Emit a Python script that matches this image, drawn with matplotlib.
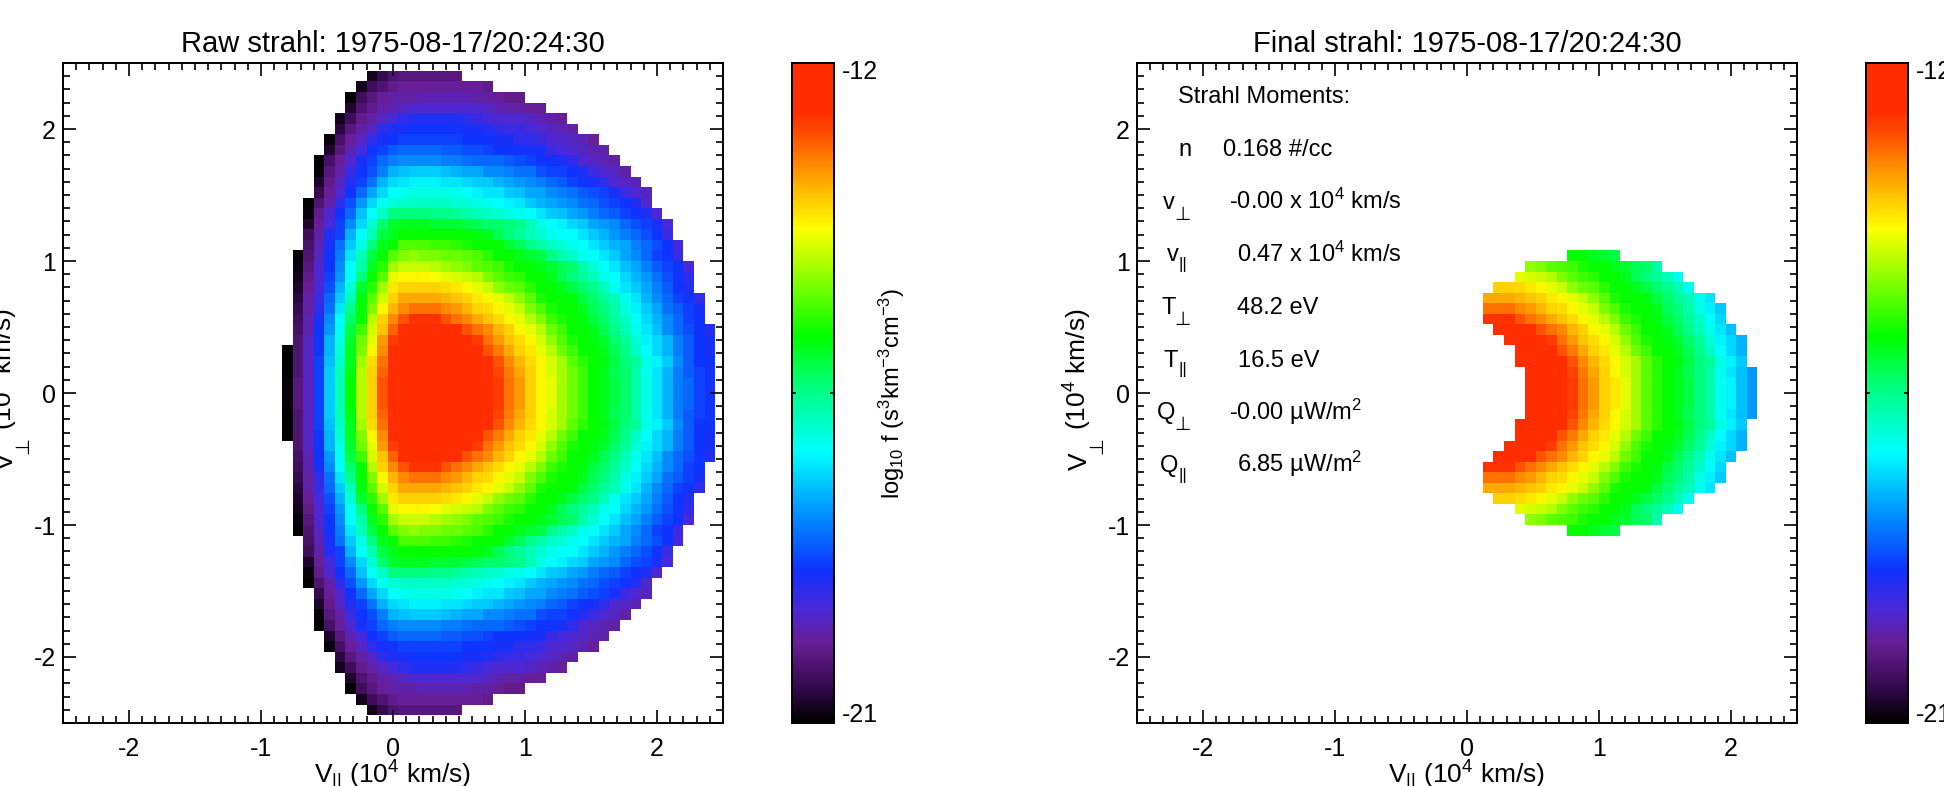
import numpy as np
import matplotlib
matplotlib.use("Agg")
import matplotlib.pyplot as plt
from matplotlib.colors import LinearSegmentedColormap
from matplotlib.ticker import MultipleLocator
from matplotlib.transforms import Affine2D

plt.rcParams["font.family"] = ["Liberation Sans", "DejaVu Sans"]
plt.rcParams["mathtext.fontset"] = "custom"
plt.rcParams["mathtext.rm"] = "Liberation Sans"
plt.rcParams["mathtext.default"] = "regular"
plt.rcParams["axes.unicode_minus"] = False

TITLE_TIME = "1975-08-17/20:24:30"
GRID_STEP = 0.08  # 10^4 km/s per cell

# Cell values are tenths of a decade above log10 f = -21.
# Rows run from v_perp = 0 upward, the lower half of the picture is the mirror.
raw_first_col = [-10, -10, -10, -10, -10, -9, -9, -9, -9, -9, -9, -9, -9, -9, -8, -8,
                 -8, -8, -8, -7, -7, -7, -7, -6, -6, -5, -5, -4, -4, -3, -2]
raw_rows = [
    [1, 9, 14, 22, 33, 42, 53, 63, 71, 80, 85, 85, 85, 85, 85, 85, 85, 85, 85, 85, 82, 78, 75, 71, 68, 66, 62, 59, 56, 53, 51, 49, 47, 43, 39, 35, 31, 27, 25, 22, 21],
    [1, 9, 14, 22, 33, 42, 53, 63, 71, 80, 85, 85, 85, 85, 85, 85, 85, 85, 85, 85, 82, 78, 75, 71, 68, 66, 62, 59, 56, 53, 51, 49, 47, 43, 39, 35, 31, 27, 25, 22, 21],
    [0, 8, 14, 22, 33, 42, 52, 63, 71, 79, 85, 85, 85, 85, 85, 85, 85, 85, 85, 84, 81, 77, 74, 71, 68, 65, 62, 59, 56, 53, 51, 48, 47, 43, 38, 35, 31, 27, 24, 22, 21],
    [0, 8, 14, 22, 32, 41, 51, 62, 70, 78, 85, 85, 85, 85, 85, 85, 85, 85, 85, 84, 80, 76, 73, 70, 68, 65, 62, 58, 55, 53, 52, 49, 46, 44, 39, 36, 33, 28, 24, 21, 21],
    [0, 8, 14, 21, 31, 40, 51, 60, 68, 76, 84, 85, 85, 85, 85, 85, 85, 85, 84, 80, 77, 74, 71, 69, 66, 63, 59, 56, 53, 53, 51, 48, 45, 41, 37, 34, 31, 27, 24, 21, 20],
    [8, 14, 21, 31, 39, 50, 59, 66, 75, 82, 85, 85, 85, 85, 85, 85, 85, 82, 78, 75, 72, 70, 68, 65, 61, 57, 54, 53, 52, 50, 47, 44, 40, 36, 34, 31, 27, 24, 21, 20],
    [7, 13, 21, 29, 38, 49, 56, 65, 72, 79, 84, 84, 84, 84, 84, 84, 80, 78, 76, 73, 71, 68, 66, 63, 59, 56, 53, 53, 51, 48, 45, 42, 38, 35, 32, 28, 25, 23, 21, 19],
    [6, 13, 20, 28, 37, 47, 53, 63, 71, 76, 80, 83, 83, 83, 80, 78, 76, 74, 72, 70, 68, 66, 63, 60, 56, 54, 53, 52, 49, 47, 44, 41, 37, 34, 31, 28, 25, 22, 21],
    [5, 12, 18, 26, 35, 45, 53, 60, 68, 73, 76, 78, 78, 78, 76, 75, 73, 71, 70, 68, 66, 64, 60, 57, 54, 53, 53, 51, 48, 46, 43, 39, 36, 33, 30, 26, 24, 22, 20],
    [4, 12, 17, 25, 33, 42, 52, 58, 65, 71, 74, 74, 74, 74, 73, 72, 71, 69, 68, 66, 64, 61, 58, 54, 53, 53, 52, 49, 47, 44, 42, 38, 35, 31, 28, 25, 22, 21, 18],
    [3, 11, 16, 23, 31, 40, 50, 55, 62, 69, 71, 71, 71, 71, 70, 69, 68, 66, 64, 61, 59, 58, 55, 53, 53, 51, 49, 47, 45, 42, 38, 35, 33, 30, 27, 24, 21, 19],
    [2, 10, 15, 22, 29, 37, 46, 53, 58, 66, 68, 68, 68, 67, 66, 65, 64, 63, 60, 58, 56, 55, 53, 53, 51, 48, 46, 44, 42, 38, 37, 34, 31, 29, 26, 23, 21, 18],
    [1, 9, 15, 21, 28, 37, 43, 51, 55, 62, 64, 64, 64, 63, 62, 61, 60, 58, 57, 56, 54, 53, 53, 51, 50, 48, 47, 43, 40, 37, 35, 32, 30, 27, 24, 22, 21, 16],
    [0, 8, 14, 21, 27, 35, 42, 49, 53, 58, 60, 61, 60, 60, 59, 59, 58, 57, 55, 53, 53, 51, 50, 49, 45, 43, 41, 38, 37, 35, 33, 30, 28, 25, 22, 21, 17],
    [7, 13, 20, 26, 33, 39, 46, 51, 53, 57, 57, 57, 56, 56, 55, 54, 53, 53, 53, 50, 48, 45, 43, 41, 40, 38, 37, 35, 33, 31, 30, 27, 25, 23, 21, 16],
    [6, 12, 19, 22, 31, 37, 42, 49, 51, 53, 53, 53, 53, 53, 53, 53, 52, 51, 48, 46, 44, 42, 40, 38, 37, 37, 35, 33, 31, 29, 27, 25, 23, 21, 17],
    [3, 11, 16, 22, 28, 34, 40, 47, 50, 51, 51, 51, 50, 50, 50, 49, 48, 47, 47, 46, 45, 42, 39, 37, 36, 34, 33, 30, 29, 28, 25, 23, 22, 20, 16],
    [1, 10, 15, 21, 25, 32, 37, 41, 46, 46, 46, 46, 45, 45, 44, 43, 42, 41, 40, 39, 38, 37, 35, 33, 32, 30, 29, 27, 25, 24, 22, 21, 19, 15],
    [0, 8, 12, 18, 23, 29, 34, 38, 40, 41, 41, 41, 41, 41, 40, 40, 39, 38, 37, 36, 35, 33, 31, 30, 29, 28, 26, 25, 23, 22, 21, 19, 15],
    [5, 11, 15, 21, 25, 30, 34, 37, 38, 39, 39, 39, 39, 38, 37, 36, 35, 35, 33, 32, 30, 30, 28, 27, 26, 24, 23, 22, 20, 17, 15, 14],
    [3, 10, 14, 19, 22, 26, 31, 34, 35, 36, 36, 36, 35, 35, 34, 33, 33, 31, 30, 29, 28, 27, 25, 24, 22, 21, 20, 18, 15, 14, 13],
    [1, 9, 12, 17, 21, 23, 27, 31, 32, 33, 33, 33, 32, 31, 30, 30, 28, 28, 27, 26, 26, 23, 22, 22, 21, 19, 17, 15, 14, 12],
    [0, 7, 11, 15, 20, 22, 25, 27, 28, 28, 28, 28, 27, 27, 26, 25, 25, 25, 24, 23, 22, 21, 21, 20, 18, 15, 14, 13, 12],
    [3, 9, 13, 16, 21, 22, 24, 25, 25, 25, 25, 24, 24, 23, 23, 22, 21, 21, 21, 20, 20, 17, 16, 15, 14, 13, 12],
    [1, 7, 11, 14, 18, 20, 21, 22, 22, 22, 22, 22, 22, 21, 21, 21, 20, 20, 18, 18, 17, 15, 15, 14, 13, 11],
    [4, 9, 12, 14, 18, 19, 20, 21, 21, 21, 21, 21, 20, 20, 19, 18, 17, 17, 16, 15, 14, 13, 12],
    [2, 6, 10, 12, 14, 16, 18, 19, 19, 19, 19, 19, 18, 17, 16, 15, 15, 15, 14, 13, 12, 11],
    [3, 8, 10, 12, 13, 14, 15, 15, 15, 15, 15, 15, 15, 14, 13, 12, 12, 11, 11],
    [0, 6, 9, 11, 12, 12, 12, 13, 13, 13, 13, 13, 12, 12, 11, 10, 10],
    [2, 6, 8, 10, 11, 11, 11, 11, 11, 11, 11, 11, 10],
    [2, 5, 8, 9, 9, 9, 9, 9, 9],
]

final_first_col = [6, 6, 6, 5, 5, 4, 3, 2, 2, 2, 3, 5, 6, 10]
final_rows = [
    [85, 85, 85, 85, 82, 78, 75, 71, 69, 66, 62, 58, 55, 53, 51, 49, 46, 43, 38, 36, 32, 29],
    [85, 85, 85, 85, 82, 78, 75, 71, 69, 66, 62, 58, 55, 53, 51, 49, 46, 43, 38, 36, 32, 29],
    [85, 85, 85, 85, 81, 77, 74, 71, 68, 65, 62, 58, 55, 53, 51, 48, 46, 43, 38, 35, 32, 29],
    [85, 85, 85, 85, 84, 80, 76, 73, 70, 68, 65, 62, 58, 55, 53, 52, 49, 46, 44, 39, 36, 33],
    [85, 85, 85, 84, 80, 77, 74, 71, 69, 66, 63, 59, 56, 53, 53, 51, 48, 45, 41, 37, 34, 31],
    [85, 85, 85, 85, 82, 78, 75, 72, 70, 68, 65, 61, 57, 54, 53, 52, 50, 47, 44, 40, 36, 34, 31],
    [84, 84, 84, 84, 80, 78, 76, 73, 71, 68, 66, 63, 59, 56, 53, 53, 51, 48, 45, 42, 38, 35, 32],
    [83, 83, 83, 80, 78, 76, 74, 72, 70, 68, 66, 63, 60, 56, 54, 53, 52, 49, 47, 44, 41, 37, 34],
    [78, 78, 78, 76, 75, 73, 71, 70, 68, 66, 64, 60, 57, 54, 53, 53, 51, 48, 46, 43, 39, 36, 33],
    [74, 74, 74, 73, 72, 71, 69, 68, 66, 64, 61, 58, 54, 53, 53, 52, 49, 47, 44, 42, 38, 35],
    [71, 71, 70, 69, 68, 66, 64, 61, 59, 58, 55, 53, 53, 51, 49, 47, 45, 42, 38],
    [66, 65, 64, 63, 60, 58, 56, 55, 53, 53, 51, 48, 46, 44, 42, 38],
    [61, 60, 58, 57, 56, 54, 53, 53, 51, 50, 48, 47, 43],
    [53, 53, 51, 50, 49],
]

moment_names = ["n", "v", "v", "T", "T", "Q", "Q"]
moment_subs = ["", "perp", "par", "perp", "par", "perp", "par"]
moment_values = [
    "0.168 #/cc",
    r"-0.00 x 10$^4$ km/s",
    r"0.47 x 10$^4$ km/s",
    "48.2 eV",
    "16.5 eV",
    "-0.00 µW/m$^2$",
    "6.85 µW/m$^2$",
]
# left edge of each text, in pixels of the panel
name_left_px = [41, 26, 30, 24, 27, 20, 23]
value_left_px = [86, 92, 100, 100, 101, 92, 100]

cmap = LinearSegmentedColormap.from_list("strahl", [
    (0.00, "#000000"), (0.05, "#32084a"), (0.12, "#691e96"), (0.17, "#4b28d7"),
    (0.23, "#0f32ff"), (0.32, "#0096ff"), (0.41, "#00ffff"), (0.50, "#00ff8c"),
    (0.585, "#00ff00"), (0.75, "#ffff00"), (0.83, "#ffa000"), (0.90, "#ff4600"),
    (0.93, "#ff2d00"), (1.00, "#ff2d00"),
])

FIG_W, FIG_H = 1944, 786
AX_TOP, AX_SIZE = 63, 660
PANEL_LEFT = [63, 1137]
CBAR_LEFT = [792, 1866]
CBAR_W = 42

fig = plt.figure(figsize=(FIG_W / 100, FIG_H / 100), dpi=100, facecolor="white")
# pixel coordinates with the origin at the top left
fig_px = Affine2D().scale(1, -1).translate(0, FIG_H)


def px_axes(left, top, w, h):
    return fig.add_axes([left / FIG_W, 1 - (top + h) / FIG_H, w / FIG_W, h / FIG_H])


def px_text(x, y, s, size, **kw):
    kw.setdefault("va", "baseline")
    return fig.text(x, y, s, transform=fig_px, fontsize=size, **kw)


def build_grid(first_col, rows):
    # NaN outside the measured region
    grid = np.full((61, 61), np.nan)
    for k, (start, row) in enumerate(zip(first_col, rows)):
        for n, level in enumerate(row):
            val = -21 + level / 10
            grid[30 + k, 30 + start + n] = val
            grid[30 - k, 30 + start + n] = val
    return grid


def draw_panel(left, title, grid):
    ax = px_axes(left, AX_TOP, AX_SIZE, AX_SIZE)
    edges = (np.arange(62) - 30.5) * GRID_STEP
    ax.pcolormesh(edges, edges, np.ma.masked_invalid(grid), cmap=cmap, vmin=-21, vmax=-12,
                  linewidth=0, antialiased=False)
    ax.set_xlim(-2.5, 2.5)
    ax.set_ylim(-2.5, 2.5)
    ax.xaxis.set_major_locator(MultipleLocator(1))
    ax.yaxis.set_major_locator(MultipleLocator(1))
    ax.xaxis.set_minor_locator(MultipleLocator(0.1))
    ax.yaxis.set_minor_locator(MultipleLocator(0.1))
    ax.tick_params(which="major", direction="in", top=True, right=True, length=9.5, width=1.2,
                   labelsize=18)
    ax.tick_params(which="minor", direction="in", top=True, right=True, length=4.8, width=1.2)
    ax.tick_params(axis="x", which="major", pad=10)
    ax.tick_params(axis="y", which="major", pad=5)
    for sp in ax.spines.values():
        sp.set_linewidth(1.4)
    ax.set_title(title, fontsize=21, pad=8)

    # x label, cut by the bottom edge in the reference as well
    px_text(left + 330, 783, r"V$_{||}$ (10$^4$ km/s)", 19, ha="center")

    # y label in pieces, the perp sign is much larger than a mathtext subscript
    base_x = left - 50
    rot = dict(rotation=90, rotation_mode="anchor", ha="left")
    px_text(base_x, 470, "V", 19, **rot)
    px_text(base_x + 15, 454, "\u22a5", 14, family="DejaVu Sans", **rot)
    px_text(base_x, 430, r"(10$^4$ km/s)", 19, **rot)
    return ax


def draw_cbar(left, with_label):
    cax = px_axes(left, AX_TOP, CBAR_W, AX_SIZE)
    gradient = np.linspace(-21, -12, 256).reshape(-1, 1)
    cax.imshow(gradient, origin="lower", aspect="auto", cmap=cmap, vmin=-21, vmax=-12,
               extent=[0, 1, -21, -12])
    cax.set_xticks([])
    cax.set_yticks([-21, -16.5, -12])
    cax.set_yticklabels([])
    cax.tick_params(direction="in", left=True, right=True, length=3, width=1.2)
    for sp in cax.spines.values():
        sp.set_linewidth(1.4)
    px_text(left + 50, 72, "-12", 18, va="center", ha="left")
    px_text(left + 50, 715, "-21", 18, va="center", ha="left")
    if with_label:
        px_text(left + 100, 393, r"log$_{10}$ f (s$^3$km$^{-3}$cm$^{-3}$)", 17,
                rotation=90, va="center", ha="center")


raw_grid = build_grid(raw_first_col, raw_rows)
final_grid = build_grid(final_first_col, final_rows)

draw_panel(PANEL_LEFT[0], "Raw strahl: " + TITLE_TIME, raw_grid)
draw_cbar(CBAR_LEFT[0], True)
draw_panel(PANEL_LEFT[1], "Final strahl: " + TITLE_TIME, final_grid)
draw_cbar(CBAR_LEFT[1], False)

px_text(PANEL_LEFT[1] + 41, 103, "Strahl Moments:", 17)
for i, name in enumerate(moment_names):
    base = 156 + i * 52.7
    px_text(PANEL_LEFT[1] + name_left_px[i], base, name, 17)
    px_text(PANEL_LEFT[1] + value_left_px[i], base, moment_values[i], 17)
    if moment_subs[i] == "perp":
        px_text(PANEL_LEFT[1] + 37, base + 11, "\u22a5", 13.5, family="DejaVu Sans")
    elif moment_subs[i] == "par":
        px_text(PANEL_LEFT[1] + 41, base + 7.5, "||", 12.5)

fig.savefig("out.png", dpi=100)
